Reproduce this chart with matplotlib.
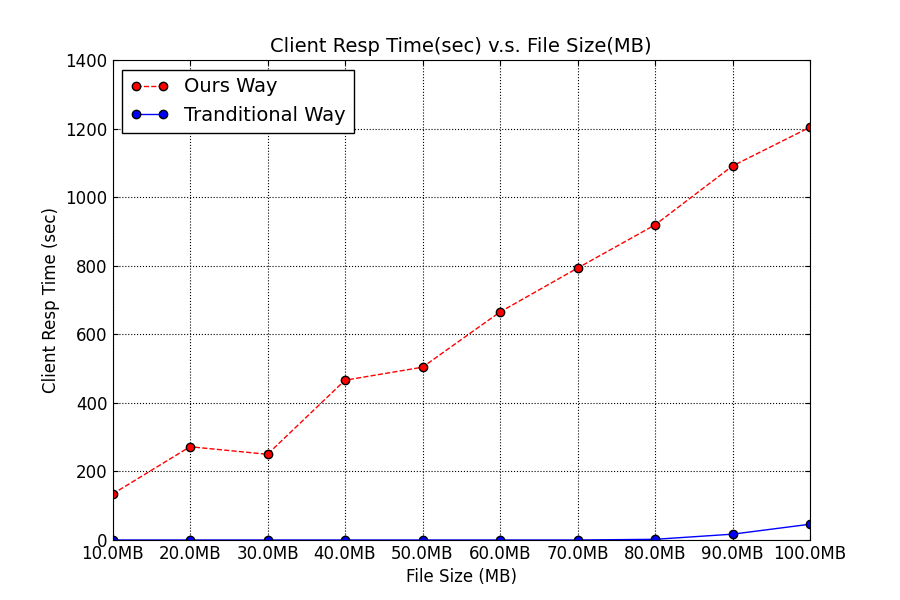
import matplotlib
matplotlib.use("Agg")
import matplotlib.pyplot as plt

labels = ["10.0MB","20.0MB","30.0MB","40.0MB","50.0MB","60.0MB","70.0MB","80.0MB","90.0MB","100.0MB"]
sizes = [10,20,30,40,50,60,70,80,90,100]
ours = [134,272,250,466,504,665,793,919,1091,1204]
trad = [0,0,0,0,0,0,0,2,17,46]

fig = plt.figure(figsize=(9,6), dpi=100)
ax = fig.add_axes([0.125,0.1,0.775,0.8])
ax.plot(sizes, ours, 'r--o', markeredgecolor='k', markersize=6, linewidth=1, label='Ours Way')
ax.plot(sizes, trad, 'b-o', markeredgecolor='k', markersize=6, linewidth=1, label='Tranditional Way')
ax.set_xlim(10,100)
ax.set_ylim(0,1400)
ax.set_xticks(sizes)
ax.set_xticklabels(labels)
ax.tick_params(labelsize=12, direction='in', top=True, right=True)
for m in ax.plot([], []): pass
ax.grid(True, color='k', linestyle=':', linewidth=0.8)
ax.set_title('Client Resp Time(sec) v.s. File Size(MB)', fontsize=14)
ax.set_xlabel('File Size (MB)', fontsize=12)
ax.set_ylabel('Client Resp Time (sec)', fontsize=12)
leg = ax.legend(loc='upper left', fontsize=14, fancybox=False, framealpha=1, edgecolor='k', numpoints=2)
for sp in ax.spines.values():
    sp.set_clip_on(True)
fig.savefig('out.png', dpi=100)
